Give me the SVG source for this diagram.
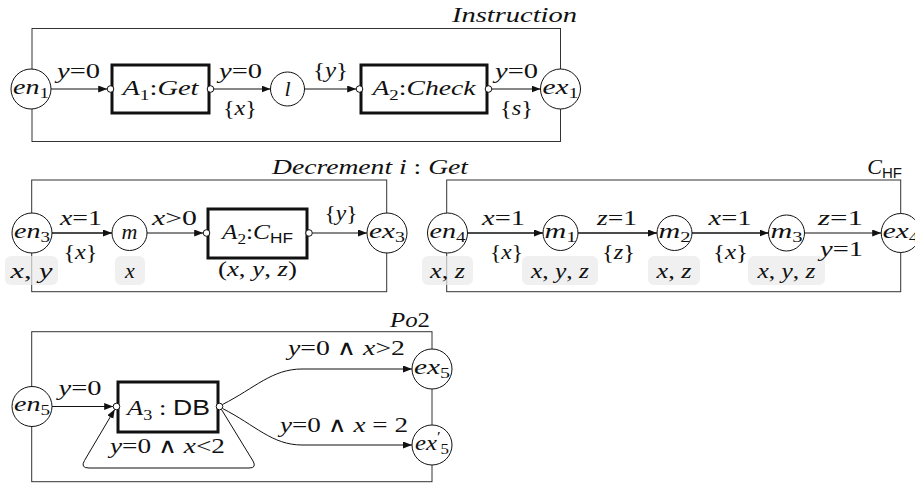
<svg xmlns="http://www.w3.org/2000/svg" width="915" height="485" viewBox="0 0 915 485">
<style>
.fr{fill:none;stroke:#333;stroke-width:1}
.nd{fill:#fff;stroke:#111;stroke-width:1}
.bx{fill:#fff;stroke:#111;stroke-width:3}
.pt{fill:#fff;stroke:#111;stroke-width:1}
.gb{fill:#e9e9e9;fill-opacity:0.7;stroke:none}
.e{fill:none;stroke:#111;stroke-width:1;marker-end:url(#ah)}
.ek{fill:none;stroke:#111;stroke-width:1.7;marker-end:url(#ah)}
.t{font-family:"Liberation Serif","Times New Roman",serif;font-size:22px;fill:#111;text-anchor:middle}
.v{font-style:italic}
.s{font-size:15px;font-style:normal}
.sf{font-family:"Liberation Sans",Arial,sans-serif}
.w{font-family:"DejaVu Serif",serif;font-size:21px}
</style>
<defs>
<marker id="ah" markerUnits="userSpaceOnUse" markerWidth="10" markerHeight="8" refX="9" refY="3.5" orient="auto">
<path d="M0,0 L9,3.5 L0,7 Z" fill="#111"/>
</marker>
</defs>

<g id="frames">
<rect class="fr" x="32" y="28.5" width="528.5" height="113"/>
<rect class="fr" x="31.7" y="180" width="355" height="111.7"/>
<rect class="fr" x="446.7" y="180" width="454" height="111.7"/>
<rect class="fr" x="31.7" y="331.7" width="400.3" height="150"/>
</g>

<g id="titles">
<text class="t v" x="514.5" y="21.5" textLength="125" lengthAdjust="spacingAndGlyphs">Instruction</text>
<text class="t" x="370" y="174" textLength="196" lengthAdjust="spacingAndGlyphs"><tspan class="v">Decrement i</tspan> : <tspan class="v">Get</tspan></text>
<text class="t" x="902" y="174" style="text-anchor:end"><tspan class="v">C</tspan><tspan class="s sf" dy="4">HF</tspan></text>
<text class="t" x="410" y="327" textLength="40" lengthAdjust="spacingAndGlyphs"><tspan class="v">Po</tspan>2</text>
</g>

<g id="variable-sets">
<rect class="gb" x="5" y="256" width="53" height="29" rx="6"/>
<text class="t" x="31.5" y="278" textLength="42" lengthAdjust="spacingAndGlyphs"><tspan class="v">x</tspan>, <tspan class="v">y</tspan></text>
<rect class="gb" x="115" y="256" width="30" height="29" rx="6"/>
<text class="t v" x="130" y="278">x</text>
<rect class="gb" x="422" y="256" width="51" height="29" rx="6"/>
<text class="t" x="447.5" y="278" textLength="35" lengthAdjust="spacingAndGlyphs"><tspan class="v">x</tspan>, <tspan class="v">z</tspan></text>
<rect class="gb" x="522" y="256" width="76" height="29" rx="6"/>
<text class="t" x="560" y="278" textLength="58" lengthAdjust="spacingAndGlyphs"><tspan class="v">x</tspan>, <tspan class="v">y</tspan>, <tspan class="v">z</tspan></text>
<rect class="gb" x="648" y="256" width="52" height="29" rx="6"/>
<text class="t" x="674" y="278" textLength="35" lengthAdjust="spacingAndGlyphs"><tspan class="v">x</tspan>, <tspan class="v">z</tspan></text>
<rect class="gb" x="748" y="256" width="77" height="29" rx="6"/>
<text class="t" x="786.5" y="278" textLength="58" lengthAdjust="spacingAndGlyphs"><tspan class="v">x</tspan>, <tspan class="v">y</tspan>, <tspan class="v">z</tspan></text>
</g>

<g id="connectors">
<path class="e" d="M51 89 H107.2"/>
<path class="e" d="M213.8 89 H270.5"/>
<path class="e" d="M304.5 89 H356.2"/>
<path class="e" d="M491.8 89 H540.5"/>
<path class="ek" d="M52 233 H112"/>
<path class="e" d="M147 233 H203.2"/>
<path class="e" d="M312.3 233 H367"/>
<path class="ek" d="M467.5 233 H543"/>
<path class="ek" d="M578 233 H657"/>
<path class="ek" d="M692 233 H768.5"/>
<path class="e" d="M804.5 233 H881.2"/>
<path class="e" d="M52 406.5 H113.2"/>
<path class="e" d="M222.5 404.5 C255 388, 272 369, 302 369 L412 369"/>
<path class="e" d="M222.5 408.5 C255 425, 272 445, 302 445 L412 445"/>
<path class="e" d="M221.5 409.5 L253 461 Q257 468 249 468 L89 468 Q80 468 84.5 460.5 L114.8 409.3"/>
</g>

<g id="edge-labels">
<text class="t" x="78.5" y="77.5" textLength="43" lengthAdjust="spacingAndGlyphs"><tspan class="v">y</tspan>=0</text>
<text class="t" x="240.5" y="77.5" textLength="43" lengthAdjust="spacingAndGlyphs"><tspan class="v">y</tspan>=0</text>
<text class="t" x="240" y="115" textLength="34" lengthAdjust="spacingAndGlyphs">{<tspan class="v">x</tspan>}</text>
<text class="t" x="330.5" y="77" textLength="35" lengthAdjust="spacingAndGlyphs">{<tspan class="v">y</tspan>}</text>
<text class="t" x="516.5" y="77.5" textLength="43" lengthAdjust="spacingAndGlyphs"><tspan class="v">y</tspan>=0</text>
<text class="t" x="516.5" y="115" textLength="33" lengthAdjust="spacingAndGlyphs">{<tspan class="v">s</tspan>}</text>

<text class="t" x="81" y="225" textLength="42" lengthAdjust="spacingAndGlyphs"><tspan class="v">x</tspan>=1</text>
<text class="t" x="80.5" y="259" textLength="34" lengthAdjust="spacingAndGlyphs">{<tspan class="v">x</tspan>}</text>
<text class="t" x="174.5" y="225" textLength="45" lengthAdjust="spacingAndGlyphs"><tspan class="v">x</tspan>&gt;0</text>
<text class="t" x="257.5" y="276" textLength="79" lengthAdjust="spacingAndGlyphs">(<tspan class="v">x</tspan>, <tspan class="v">y</tspan>, <tspan class="v">z</tspan>)</text>
<text class="t" x="341" y="220" textLength="33" lengthAdjust="spacingAndGlyphs">{<tspan class="v">y</tspan>}</text>

<text class="t" x="503.5" y="225" textLength="43" lengthAdjust="spacingAndGlyphs"><tspan class="v">x</tspan>=1</text>
<text class="t" x="506.5" y="259" textLength="33" lengthAdjust="spacingAndGlyphs">{<tspan class="v">x</tspan>}</text>
<text class="t" x="617" y="225" textLength="40" lengthAdjust="spacingAndGlyphs"><tspan class="v">z</tspan>=1</text>
<text class="t" x="618.5" y="259" textLength="33" lengthAdjust="spacingAndGlyphs">{<tspan class="v">z</tspan>}</text>
<text class="t" x="730" y="225" textLength="43" lengthAdjust="spacingAndGlyphs"><tspan class="v">x</tspan>=1</text>
<text class="t" x="730.5" y="259" textLength="35" lengthAdjust="spacingAndGlyphs">{<tspan class="v">x</tspan>}</text>
<text class="t" x="840.5" y="225" textLength="45" lengthAdjust="spacingAndGlyphs"><tspan class="v">z</tspan>=1</text>
<text class="t" x="841.5" y="255.5" textLength="43" lengthAdjust="spacingAndGlyphs"><tspan class="v">y</tspan>=1</text>

<text class="t" x="80" y="395" textLength="43" lengthAdjust="spacingAndGlyphs"><tspan class="v">y</tspan>=0</text>
<text class="t" x="167.5" y="453" textLength="115" lengthAdjust="spacingAndGlyphs"><tspan class="v">y</tspan>=0 <tspan class="w">∧</tspan> <tspan class="v">x</tspan>&lt;2</text>
<text class="t" x="346.5" y="355" textLength="117" lengthAdjust="spacingAndGlyphs"><tspan class="v">y</tspan>=0 <tspan class="w">∧</tspan> <tspan class="v">x</tspan>&gt;2</text>
<text class="t" x="344" y="431.5" textLength="128" lengthAdjust="spacingAndGlyphs"><tspan class="v">y</tspan>=0 <tspan class="w">∧</tspan> <tspan class="v">x</tspan> = 2</text>
</g>

<g id="en1"><circle class="nd" cx="31" cy="89" r="20"/><text class="t" x="31" y="93.5" textLength="36" lengthAdjust="spacingAndGlyphs"><tspan class="v">en</tspan><tspan class="s" dy="4">1</tspan></text></g>
<g id="A1"><rect class="bx" x="112" y="65" width="97" height="48"/><circle class="pt" cx="110.5" cy="89" r="3.3"/><circle class="pt" cx="210.5" cy="89" r="3.3"/><text class="t" x="160.5" y="95" textLength="76" lengthAdjust="spacingAndGlyphs"><tspan class="v">A</tspan><tspan class="s" dy="5">1</tspan><tspan dy="-5">:</tspan><tspan class="v">Get</tspan></text></g>
<g id="l"><circle class="nd" cx="287.5" cy="89" r="17"/><text class="t v" x="287.5" y="96">l</text></g>
<g id="A2"><rect class="bx" x="361" y="65" width="126" height="48"/><circle class="pt" cx="359.5" cy="89" r="3.3"/><circle class="pt" cx="488.5" cy="89" r="3.3"/><text class="t" x="424" y="95" textLength="103" lengthAdjust="spacingAndGlyphs"><tspan class="v">A</tspan><tspan class="s" dy="5">2</tspan><tspan dy="-5">:</tspan><tspan class="v">Check</tspan></text></g>
<g id="ex1"><circle class="nd" cx="560.5" cy="89" r="20"/><text class="t" x="560.5" y="93.5" textLength="36" lengthAdjust="spacingAndGlyphs"><tspan class="v">ex</tspan><tspan class="s" dy="4">1</tspan></text></g>

<g id="en3"><circle class="nd" cx="32" cy="233" r="20"/><text class="t" x="32" y="237.5" textLength="36" lengthAdjust="spacingAndGlyphs"><tspan class="v">en</tspan><tspan class="s" dy="4">3</tspan></text></g>
<g id="m"><circle class="nd" cx="129.5" cy="233" r="17.5"/><text class="t v" x="129.5" y="238.5">m</text></g>
<g id="A2-CHF"><rect class="bx" x="208" y="209" width="99" height="49"/><circle class="pt" cx="206.5" cy="233" r="3.3"/><circle class="pt" cx="309" cy="233" r="3.3"/><text class="t" x="257.5" y="239" textLength="71" lengthAdjust="spacingAndGlyphs"><tspan class="v">A</tspan><tspan class="s" dy="5">2</tspan><tspan dy="-5">:</tspan><tspan class="v">C</tspan><tspan class="s sf" dy="4">HF</tspan></text></g>
<g id="ex3"><circle class="nd" cx="387" cy="233" r="20"/><text class="t" x="387" y="237.5" textLength="36" lengthAdjust="spacingAndGlyphs"><tspan class="v">ex</tspan><tspan class="s" dy="4">3</tspan></text></g>

<g id="en4"><circle class="nd" cx="447.5" cy="233" r="20"/><text class="t" x="447.5" y="237.5" textLength="36" lengthAdjust="spacingAndGlyphs"><tspan class="v">en</tspan><tspan class="s" dy="4">4</tspan></text></g>
<g id="m1"><circle class="nd" cx="560.5" cy="233" r="17.5"/><text class="t" x="560.5" y="238" textLength="32" lengthAdjust="spacingAndGlyphs"><tspan class="v">m</tspan><tspan class="s" dy="4">1</tspan></text></g>
<g id="m2"><circle class="nd" cx="674.5" cy="233" r="17.5"/><text class="t" x="674.5" y="238" textLength="32" lengthAdjust="spacingAndGlyphs"><tspan class="v">m</tspan><tspan class="s" dy="4">2</tspan></text></g>
<g id="m3"><circle class="nd" cx="786.5" cy="233" r="18"/><text class="t" x="786.5" y="238" textLength="32" lengthAdjust="spacingAndGlyphs"><tspan class="v">m</tspan><tspan class="s" dy="4">3</tspan></text></g>
<g id="ex4"><circle class="nd" cx="900.7" cy="233" r="19.5"/><text class="t" x="900.7" y="237.5" textLength="36" lengthAdjust="spacingAndGlyphs"><tspan class="v">ex</tspan><tspan class="s" dy="4">4</tspan></text></g>

<g id="en5"><circle class="nd" cx="32" cy="406.5" r="20"/><text class="t" x="32" y="411" textLength="36" lengthAdjust="spacingAndGlyphs"><tspan class="v">en</tspan><tspan class="s" dy="4">5</tspan></text></g>
<g id="A3"><rect class="bx" x="118" y="382" width="100" height="50"/><circle class="pt" cx="116.5" cy="406.5" r="3.3"/><circle class="pt" cx="219.5" cy="406.5" r="3.3"/><text class="t" x="168.5" y="415" textLength="83" lengthAdjust="spacingAndGlyphs"><tspan class="v">A</tspan><tspan class="s" dy="5">3</tspan><tspan dy="-5"> : </tspan><tspan class="sf">DB</tspan></text></g>
<g id="ex5"><circle class="nd" cx="432" cy="369" r="20"/><text class="t" x="432" y="373.5" textLength="36" lengthAdjust="spacingAndGlyphs"><tspan class="v">ex</tspan><tspan class="s" dy="4">5</tspan></text></g>
<g id="ex5p"><circle class="nd" cx="432" cy="445" r="20"/><text class="t" x="432" y="449.5" textLength="34" lengthAdjust="spacingAndGlyphs"><tspan class="v">ex</tspan><tspan class="s" dy="-8">′</tspan><tspan class="s" dy="12">5</tspan></text></g>
</svg>
